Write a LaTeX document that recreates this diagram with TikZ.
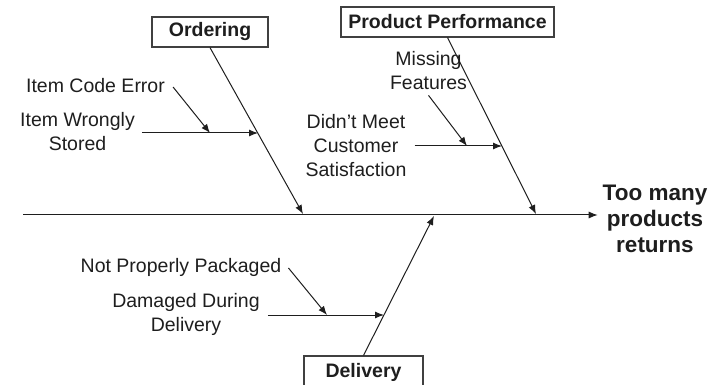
\documentclass[tikz,border=0pt]{standalone}
\usepackage{fontspec}
\setmainfont{Liberation Sans}
\usetikzlibrary{arrows.meta}
\definecolor{ink}{RGB}{30,30,30}
\begin{document}
\begin{tikzpicture}[x=1pt,y=-1pt,
  every node/.style={text=ink, font=\fontsize{19.5}{24}\selectfont, inner sep=0pt},
  lbl/.style={align=center},
  cat/.style={draw=ink!85, line width=1.2pt, fill=white, font=\fontsize{19.5}{24}\selectfont\bfseries, minimum height=30pt},
  bone/.style={draw=ink, line width=1pt},
  arr/.style={bone, -{Latex[length=9pt,width=7pt]}},
]
\clip (0,0) rectangle (721,385);

% categories
\node[cat, minimum width=116pt] (ord) at (210,32) {Ordering};
\node[cat, minimum width=213pt] (pp) at (447.5,22) {Product Performance};
\node[cat, minimum width=119pt, minimum height=32pt] (del) at (363.5,372) {Delivery};

% effect
\node[lbl, font=\fontsize{22.5}{26}\selectfont\bfseries, outer xsep=5pt] (eff) at (655,219) {Too many\\products\\returns};

% causes
\node[lbl] (ice) at (95.5,86) {Item Code Error};
\node[lbl] (iws) at (77.5,132) {Item Wrongly\\Stored};
\node[lbl] (mf) at (428.5,71) {Missing\\Features};
\node[lbl] (dmcs) at (356,146) {Didn't Meet\\Customer\\Satisfaction};
\node[lbl] (npp) at (181,267) {Not Properly Packaged};
\node[lbl] (ddd) at (186,314) {Damaged During\\Delivery};

% coordinates
\coordinate (s0) at (23,215);
\coordinate (oE) at (303,214);
\coordinate (pE) at (536,214);
\coordinate (dE) at (434,216);
\coordinate (o1) at (258,133);
\coordinate (o2) at (210,133);
\coordinate (p1) at (502,146);
\coordinate (p2) at (467,146);
\coordinate (d1) at (384,315);
\coordinate (d2) at (327,315);

% spine
\draw[arr] (s0) -- (s0 -| eff.west);

% branches
\draw[arr] (ord.south) -- (oE);
\draw[arr] (pp.south) -- (pE);
\draw[arr] (del.north) -- (dE);

% sub-causes
\draw[arr] ([xshift=8pt,yshift=-1pt]ice.east) -- (o2);
\draw[arr] ([xshift=7pt,yshift=-1pt]iws.east) -- (o1);
\draw[arr] ([yshift=-5pt]mf.south) -- (p2);
\draw[arr] ([xshift=8pt]dmcs.east) -- (p1);
\draw[arr] ([xshift=7pt,yshift=-1pt]npp.east) -- (d2);
\draw[arr] ([xshift=8pt,yshift=-1pt]ddd.east) -- (d1);
\end{tikzpicture}
\end{document}
